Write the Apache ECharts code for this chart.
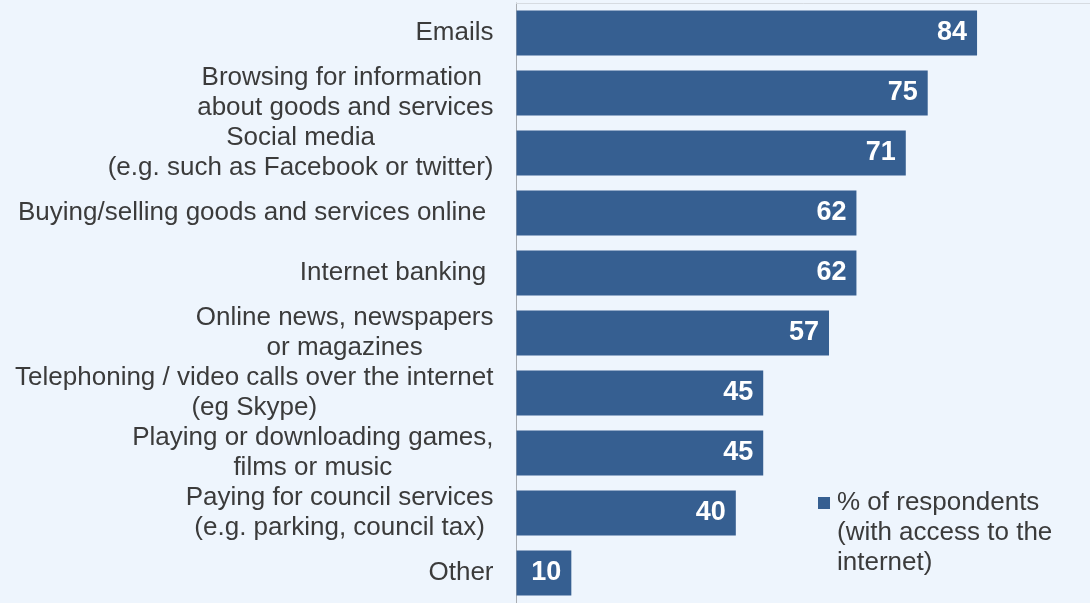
<!DOCTYPE html>
<html>
<head>
<meta charset="utf-8">
<script src="https://cdn.jsdelivr.net/npm/echarts@6/dist/echarts.min.js"></script>
<style>
  html, body { margin: 0; padding: 0; background: #eef5fd; }
  #chart { width: 1090px; height: 603px; }
</style>
</head>
<body>
<div id="chart"></div>
<script>
// Internet activities, top to bottom
const categories = [
  'Emails',
  'Browsing for information \nabout goods and services',
  'Social media\n(e.g. such as Facebook or twitter)',
  'Buying/selling goods and services online ',
  'Internet banking ',
  'Online news, newspapers\nor magazines',
  'Telephoning / video calls over the internet\n(eg Skype)',
  'Playing or downloading games,\nfilms or music',
  'Paying for council services\n(e.g. parking, council tax)',
  'Other'
];
const values = [84, 75, 71, 62, 62, 57, 45, 45, 40, 10];
const seriesName = '% of respondents\n(with access to the\ninternet)';

const FONT = '"Liberation Sans", Arial, sans-serif';
const BAR = '#365f91';
const TEXT = '#3b3b3b';

const chart = echarts.init(document.getElementById('chart'), null, { renderer: 'canvas' });

// each line of a category label is centred within its block; the block is right-aligned
function centredLines(label) {
  return label.split('\n').map(l => '{c|' + l + '}').join('\n');
}

chart.setOption({
  backgroundColor: '#eef5fd',
  animation: false,
  // plot area runs to the right edge of the canvas
  grid: { left: 516.5, top: 3, right: 0, bottom: -4, containLabel: false },
  xAxis: {
    type: 'value',
    position: 'top',
    min: 0,
    max: 104.6,
    axisLine: { show: true, lineStyle: { color: '#d6dbe1', width: 1 } },
    axisTick: { show: false },
    axisLabel: { show: false },
    splitLine: { show: false }
  },
  yAxis: {
    type: 'category',
    inverse: true,
    data: categories,
    axisLine: { show: true, lineStyle: { color: '#a9adb2', width: 1 } },
    axisTick: { show: false },
    axisLabel: {
      margin: 23,
      align: 'right',
      fontFamily: FONT,
      fontSize: 26,
      lineHeight: 30,
      color: TEXT,
      formatter: centredLines,
      rich: {
        c: { align: 'center', fontFamily: FONT, fontSize: 26, lineHeight: 30, color: TEXT }
      }
    }
  },
  series: [{
    name: seriesName,
    type: 'bar',
    data: values,
    barWidth: 45,
    itemStyle: { color: BAR },
    label: {
      show: true,
      position: 'insideRight',
      distance: 10,
      color: '#ffffff',
      fontFamily: FONT,
      fontWeight: 'bold',
      fontSize: 27
    }
  }],
  graphic: [
    { type: 'rect', left: 818, top: 497, shape: { width: 12, height: 12 }, style: { fill: BAR } },
    {
      type: 'text', left: 837, top: 488,
      style: { text: seriesName, font: '26px ' + FONT, lineHeight: 30, fill: TEXT }
    }
  ]
});
</script>
</body>
</html>
